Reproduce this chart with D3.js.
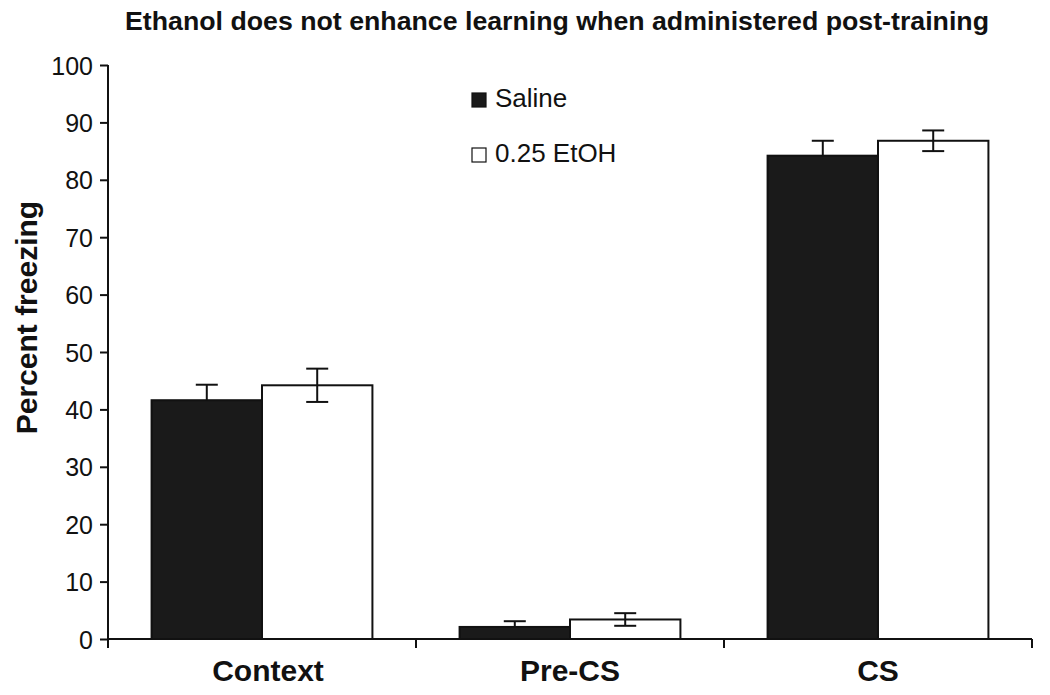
<!DOCTYPE html>
<html>
<head>
<meta charset="utf-8">
<script src="https://cdn.jsdelivr.net/npm/d3@7"></script>
<style>
  body { margin: 0; background: #fff; }
  text { font-family: "Liberation Sans", Arial, sans-serif; fill: #111; }
</style>
</head>
<body>
<script>
// 数据
const categories = ['Context', 'Pre-CS', 'CS'];
const groups = ['Saline', '0.25 EtOH'];
const salineMean = [41.6, 2.1, 84.2];
const salineErr = [2.7, 1.0, 2.6];
const etohMean = [44.2, 3.4, 86.8];
const etohErr = [2.9, 1.1, 1.8];
const yTicks = [0, 10, 20, 30, 40, 50, 60, 70, 80, 90, 100];

const width = 1050, height = 695;
const margin = {top: 65, right: 18, bottom: 56, left: 108};

const svg = d3.select('body').append('svg')
    .attr('width', width)
    .attr('height', height);

const x = d3.scaleBand()
    .domain(categories)
    .range([margin.left, width - margin.right])
    .paddingInner(0.283)
    .paddingOuter(0.1415);
const xSub = d3.scaleBand()
    .domain(groups)
    .range([0, x.bandwidth()]);
const y = d3.scaleLinear()
    .domain([0, 100])
    .range([height - margin.bottom, margin.top]);

const rows = categories.map((c, i) => ({
    cat: c,
    vals: [
        {g: groups[0], v: salineMean[i], e: salineErr[i], fill: '#1a1a1a'},
        {g: groups[1], v: etohMean[i], e: etohErr[i], fill: '#ffffff'}
    ]
}));

// 标题
svg.append('text')
    .attr('x', 557).attr('y', 30)
    .attr('text-anchor', 'middle')
    .attr('textLength', 864)
    .attr('lengthAdjust', 'spacingAndGlyphs')
    .style('font-size', '25px').style('font-weight', 'bold')
    .text('Ethanol does not enhance learning when administered post-training');

// 柱子
const g = svg.append('g').selectAll('g')
    .data(rows).enter().append('g')
    .attr('transform', d => `translate(${x(d.cat)},0)`);

g.selectAll('rect')
    .data(d => d.vals).enter().append('rect')
    .attr('x', d => xSub(d.g))
    .attr('y', d => y(d.v))
    .attr('width', xSub.bandwidth())
    .attr('height', d => y(0) - y(d.v))
    .attr('fill', d => d.fill)
    .attr('stroke', '#111')
    .attr('stroke-width', 2);

// 误差线
const eb = g.selectAll('g.err')
    .data(d => d.vals).enter().append('g')
    .attr('class', 'err')
    .attr('stroke', '#111')
    .attr('stroke-width', 2);
const cx = d => xSub(d.g) + xSub.bandwidth() / 2;
eb.append('line')
    .attr('x1', cx).attr('x2', cx)
    .attr('y1', d => y(d.v + d.e))
    .attr('y2', d => d.fill === '#ffffff' ? y(d.v - d.e) : y(d.v));
eb.append('line')
    .attr('x1', d => cx(d) - 11).attr('x2', d => cx(d) + 11)
    .attr('y1', d => y(d.v + d.e)).attr('y2', d => y(d.v + d.e));
eb.filter(d => d.fill === '#ffffff').append('line')
    .attr('x1', d => cx(d) - 11).attr('x2', d => cx(d) + 11)
    .attr('y1', d => y(d.v - d.e)).attr('y2', d => y(d.v - d.e));

// 坐标轴
const yAxis = svg.append('g')
    .attr('transform', `translate(${margin.left},0)`)
    .call(d3.axisLeft(y).tickValues(yTicks).tickSize(8).tickPadding(7));
yAxis.select('.domain').attr('d', `M0,${y(100)}V${y(0) + 9}`);
yAxis.selectAll('line, path').attr('stroke', '#111').attr('stroke-width', 2);
yAxis.selectAll('text').style('font-size', '25px').attr('dy', '0.36em');

const edges = [margin.left, ...categories.map(c => x(c) + x.bandwidth() / 2 + x.step() / 2)];
const xAxis = svg.append('g');
xAxis.append('line')
    .attr('x1', margin.left).attr('x2', width - margin.right)
    .attr('y1', y(0)).attr('y2', y(0))
    .attr('stroke', '#111').attr('stroke-width', 2);
xAxis.selectAll('line.tk')
    .data(edges.slice(1)).enter().append('line')
    .attr('class', 'tk')
    .attr('x1', d => d).attr('x2', d => d)
    .attr('y1', y(0)).attr('y2', y(0) + 9)
    .attr('stroke', '#111').attr('stroke-width', 2);
xAxis.selectAll('text')
    .data(categories).enter().append('text')
    .attr('x', d => x(d) + x.bandwidth() / 2 + (d === 'Context' ? 6 : 0))
    .attr('y', y(0) + 42)
    .attr('text-anchor', 'middle')
    .style('font-size', '30px').style('font-weight', 'bold')
    .text(d => d);

// Y轴标题
svg.append('text')
    .attr('transform', `translate(37,${y(56)}) rotate(-90)`)
    .attr('text-anchor', 'middle')
    .style('font-size', '30px').style('font-weight', 'bold')
    .text('Percent freezing');

// 图例
const legend = svg.append('g').selectAll('g')
    .data(rows[0].vals).enter().append('g')
    .attr('transform', (d, i) => `translate(472,${93 + i * 55})`);
legend.append('rect')
    .attr('width', 14).attr('height', 14)
    .attr('fill', d => d.fill)
    .attr('stroke', '#111').attr('stroke-width', 1.2);
legend.append('text')
    .attr('x', 23).attr('y', 14)
    .style('font-size', '26px')
    .text(d => d.g);
</script>
</body>
</html>
